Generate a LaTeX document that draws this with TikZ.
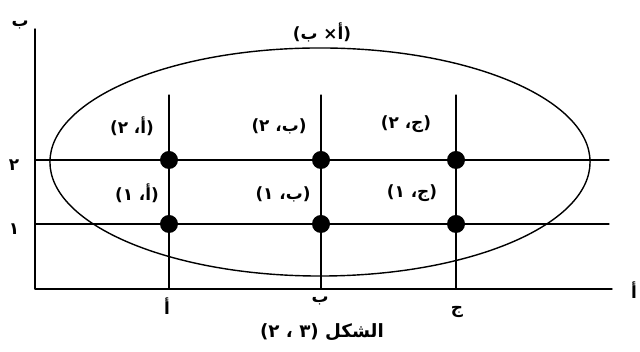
\documentclass[tikz,border=0pt]{standalone}
\usepackage{fontspec}
\setmainfont{DejaVu Sans}
\newfontfamily\arabicfont[Script=Arabic]{DejaVu Sans}
% Arabic glyphs set one by one, in the order they stand on the page
\newcommand\arb[1]{\mbox{\arabicfont #1}}
\begin{document}
\begin{tikzpicture}[x=0.025cm, y=-0.025cm, line cap=round, line join=round,
		lbl/.style={font=\bfseries\fontsize{12}{14}\selectfont, inner sep=0pt},
		figcap/.style={font=\bfseries\fontsize{13}{15}\selectfont, inner sep=0pt}]
	\useasboundingbox (0,0) rectangle (640,352);

	% === MAJMUA: ELLIPSE ===
	\draw[line width=1pt] (320,162) ellipse [x radius=6.75cm, y radius=2.85cm];
	\node[lbl] (prod) at (322,32) {(\arb{ب} ×\arb{أ})};

	% === AXES ===
	\coordinate (o) at (35,289);
	\coordinate (xend) at (612,289);
	\coordinate (yend) at (35,29);
	\draw[line width=1pt] (yend) -- (o) -- (xend);
	\node[lbl] (xlab) at (634,290) {\arb{أ}};
	\node[lbl] (ylab) at (20,25) {\arb{ب}};

	% === GRID ===
	\foreach \y/\n/\d in {160/two/٢, 224/one/١} {
		\draw[line width=0.8pt] (35,\y) -- (609,\y);
		\node[lbl] (tick-\n) at (14,\y+5) {\arb{\d}};
	}
	\foreach \x in {169, 321, 456} {
		\draw[line width=0.8pt] (\x,95) -- (\x,289);
	}
	\node[lbl] (tick-a) at (167,306) {\arb{أ}};
	\node[lbl] (tick-b) at (320,301) {\arb{ب}};
	\node[lbl] (tick-c) at (457,312) {\arb{ج}};

	% === NUQAT ===
	\foreach \x in {169, 321, 456} {
		\foreach \y in {160, 224} {
			\fill (\x,\y) circle (0.225cm);
		}
	}
	\node[lbl] (a2) at (132,126) {(\arb{٢} \arb{،}\arb{أ})};
	\node[lbl] (b2) at (279,126) {(\arb{٢} \arb{،}\arb{ب})};
	\node[lbl] (c2) at (406,124) {(\arb{٢} \arb{،}\arb{ج})};
	\node[lbl] (a1) at (137,193) {(\arb{١} \arb{،}\arb{أ})};
	\node[lbl] (b1) at (283,194) {(\arb{١} \arb{،}\arb{ب})};
	\node[lbl] (c1) at (412,193) {(\arb{١} \arb{،}\arb{ج})};

	% === CAPTION ===
	\node[figcap] (fig) at (322,332) {(\arb{٢} \arb{،} \arb{٣}) \arb{الشكل}};
\end{tikzpicture}
\end{document}
